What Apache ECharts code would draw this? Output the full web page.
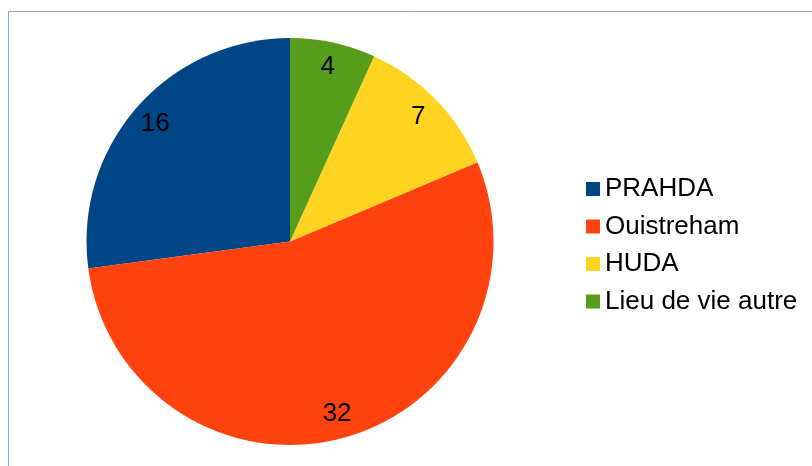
<!DOCTYPE html>
<html>
<head>
<meta charset="utf-8">
<script src="https://cdn.jsdelivr.net/npm/echarts@6/dist/echarts.min.js"></script>
<style>
  html, body { margin: 0; padding: 0; background: #fff; }
  #chart { width: 812px; height: 466px; }
</style>
</head>
<body>
<div id="chart"></div>
<script>
// Répartition par lieu d'hébergement
const categories = ['PRAHDA', 'Ouistreham', 'HUDA', 'Lieu de vie autre'];
const values = [16, 32, 7, 4];
const colors = ['#004586', '#ff420e', '#ffd320', '#579d1c'];

const pieData = categories.map((name, i) => ({
  name,
  value: values[i],
  itemStyle: { color: colors[i] }
}));

const center = [290, 241.5];
const font = 'Liberation Sans, Arial, sans-serif';

const chart = echarts.init(document.getElementById('chart'), null, { renderer: 'canvas' });
chart.setOption({
  animation: false,
  backgroundColor: '#ffffff',
  graphic: [{
    type: 'rect',
    silent: true,
    shape: { x: 8.5, y: 11.5, width: 1000, height: 1000 },
    style: { fill: 'none', stroke: '#8aa6cc', lineWidth: 1 }
  }],
  legend: {
    orient: 'vertical',
    left: 581,
    top: 171,
    data: categories,
    icon: 'rect',
    itemWidth: 14,
    itemHeight: 14,
    itemGap: 11.5,
    selectedMode: false,
    textStyle: { fontFamily: font, fontSize: 26, lineHeight: 26, color: '#000', padding: [0, 0, 0, 0] }
  },
  series: [
    {
      type: 'pie',
      center,
      radius: [0, 203.5],
      startAngle: 90,
      clockwise: false,
      data: pieData,
      label: { show: false },
      labelLine: { show: false },
      itemStyle: { borderWidth: 0 },
      silent: true
    },
    {
      // thin transparent ring that carries the value labels near the rim
      type: 'pie',
      center,
      radius: [172, 180],
      startAngle: 90,
      clockwise: false,
      data: pieData.map(d => ({ name: d.name, value: d.value, itemStyle: { color: 'rgba(0,0,0,0)' } })),
      label: {
        show: true,
        position: 'inside',
        formatter: '{c}',
        fontFamily: font,
        fontSize: 26,
        color: '#000'
      },
      labelLine: { show: false },
      itemStyle: { borderWidth: 0 },
      silent: true
    }
  ]
});
</script>
</body>
</html>
